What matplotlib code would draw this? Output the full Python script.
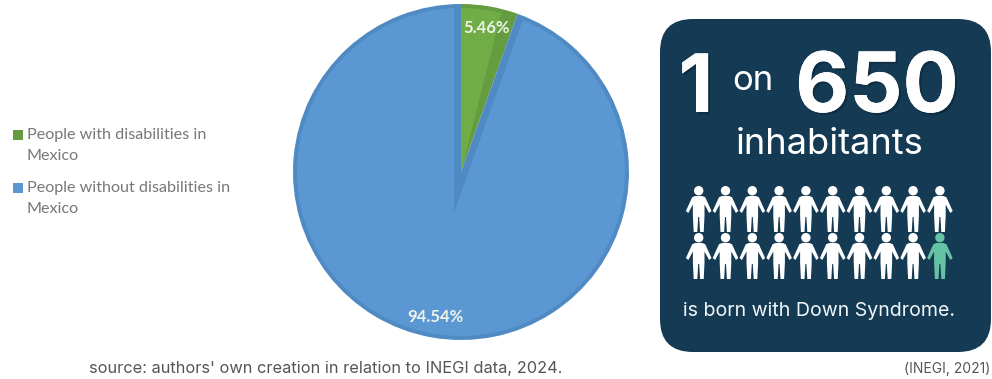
import numpy as np
import matplotlib
matplotlib.use("Agg")
import matplotlib.pyplot as plt
from matplotlib.patches import Wedge, Circle, FancyBboxPatch, Rectangle, PathPatch
from matplotlib.path import Path
from matplotlib.transforms import Affine2D
import matplotlib.patheffects as pe

# Share of the population in Mexico
legend_labels = ["People with disabilities in\nMexico", "People without disabilities in\nMexico"]
shares = [5.46, 94.54]
share_labels = ["5.46%", "94.54%"]

# Pictogram: one highlighted figure in two rows of ten
people_rows = 2
people_cols = 10

BLUE, BLUE_DARK = "#5B97D3", "#508AC3"
GREEN, GREEN_DARK = "#70AD47", "#659C3F"
NAVY = "#143A54"
MINT = "#66C2A5"
UI_FONT = ["Inter", "DejaVu Sans"]
BODY_FONT = ["Lato", "DejaVu Sans"]

W, H = 992, 379
fig = plt.figure(figsize=(W / 100, H / 100), dpi=100, facecolor="white")
canvas = fig.add_axes([0, 0, 1, 1])
canvas.set_xlim(0, W)
canvas.set_ylim(H, 0)
canvas.axis("off")

# Pie: axes cut at the top edge so the circle is slightly clipped
cx, cy, R = 461, 172, 168
top = 8
pie_ax = fig.add_axes([(cx - R) / W, 1 - (cy + R) / H, 2 * R / W, (cy + R - top) / H], zorder=2)
pie_ax.pie(shares, colors=[GREEN_DARK, BLUE_DARK], startangle=90, counterclock=False, radius=1,
           wedgeprops={"linewidth": 0})
pie_ax.set_xlim(-1, 1)
pie_ax.set_ylim(-1, (cy - top) / R)
pie_ax.set_aspect("equal")
pie_ax.axis("off")

# Bevel: lighter inner faces over the darker slices
sweep = 360 * shares[0] / sum(shares)
mid = np.radians(90 - sweep / 2)
inner_r = (R - 4) / R
shift = 41 / R
blue_face = Wedge((-shift * np.cos(mid), -shift * np.sin(mid)), 2, 90, 90 - sweep + 360,
                  facecolor=BLUE, linewidth=0)
pie_ax.add_patch(blue_face)
blue_face.set_clip_path(Circle((0, 0), inner_r, transform=pie_ax.transData))
green_face = Wedge((0, 0), inner_r, 90 - sweep * 0.72, 90, facecolor=GREEN, linewidth=0)
pie_ax.add_patch(green_face)

label_style = dict(ha="center", va="center", color="#EEF3EA", fontsize=12, fontweight="bold",
                   family=BODY_FONT, zorder=5)
canvas.set_zorder(3)
canvas.text(487, 28, share_labels[0], **label_style)
canvas.text(435, 317, share_labels[1], **label_style)

# Legend
for y, color, label in zip([135, 188], [GREEN_DARK, BLUE], legend_labels):
    canvas.add_patch(Rectangle((13, y - 5), 10, 10, facecolor=color, linewidth=0))
    canvas.text(27, y - 7, label, ha="left", va="top", fontsize=11.6, color="#777777",
                family=BODY_FONT, linespacing=1.68)

# Panel
panel_ax = fig.add_axes([0, 0, 1, 1], zorder=1)
panel_ax.set_xlim(0, W)
panel_ax.set_ylim(H, 0)
panel_ax.axis("off")
panel_ax.add_patch(FancyBboxPatch((660 + 33, 19 + 33), 331 - 66, 333 - 66,
                                  boxstyle="round,pad=33,rounding_size=33",
                                  facecolor=NAVY, linewidth=0))

shadow = [pe.withSimplePatchShadow(offset=(1.5, -1.5), shadow_rgbFace="#0A2233", alpha=0.5), pe.Normal()]
canvas.text(696, 112, "1", ha="center", va="baseline", fontsize=58, fontweight="bold", color="white",
            family=UI_FONT, path_effects=shadow)
canvas.text(753, 90, "on", ha="center", va="baseline", fontsize=25, color="white", family=UI_FONT)
canvas.text(877, 112, "650", ha="center", va="baseline", fontsize=60, fontweight="bold", color="white",
            family=UI_FONT, path_effects=shadow)
canvas.text(830, 154, "inhabitants", ha="center", va="baseline", fontsize=26.2, color="white", family=UI_FONT)
canvas.text(819, 316, "is born with Down Syndrome.", ha="center", va="baseline", fontsize=14.1, color="#F2F6F8",
            family=UI_FONT)

# Person pictogram, drawn downward from the head in pixel units
body = [(-3.5, 10), (3.5, 10), (6.5, 11.2), (12.8, 25), (10.4, 27), (5.8, 18.5), (5.8, 30), (5, 46),
        (1.4, 46), (0.5, 31), (-0.5, 31), (-1.4, 46), (-5, 46), (-5.8, 30), (-5.8, 18.5), (-10.4, 27),
        (-12.8, 25), (-6.5, 11.2), (-3.5, 10)]
body_path = Path(body, closed=True)
head_path = Path.circle((0, 4.7), 4.7)
person = Path.make_compound_path(body_path, head_path)

x0, y0, dx, dy = 698.7, 186, 26.8, 47
for row in range(people_rows):
    for col in range(people_cols):
        color = MINT if (row == people_rows - 1 and col == people_cols - 1) else "white"
        tr = Affine2D().translate(x0 + col * dx, y0 + row * dy) + canvas.transData
        canvas.add_patch(PathPatch(person, transform=tr, facecolor=color, linewidth=0))

# Footnotes
canvas.text(89, 373, "source: authors' own creation in relation to INEGI data, 2024.", ha="left",
            va="baseline", fontsize=11.8, color="#555555", family=UI_FONT)
canvas.text(990, 373, "(INEGI, 2021)", ha="right", va="baseline", fontsize=10, color="#555555", family=UI_FONT)

fig.savefig("out.png", dpi=100, facecolor="white")
